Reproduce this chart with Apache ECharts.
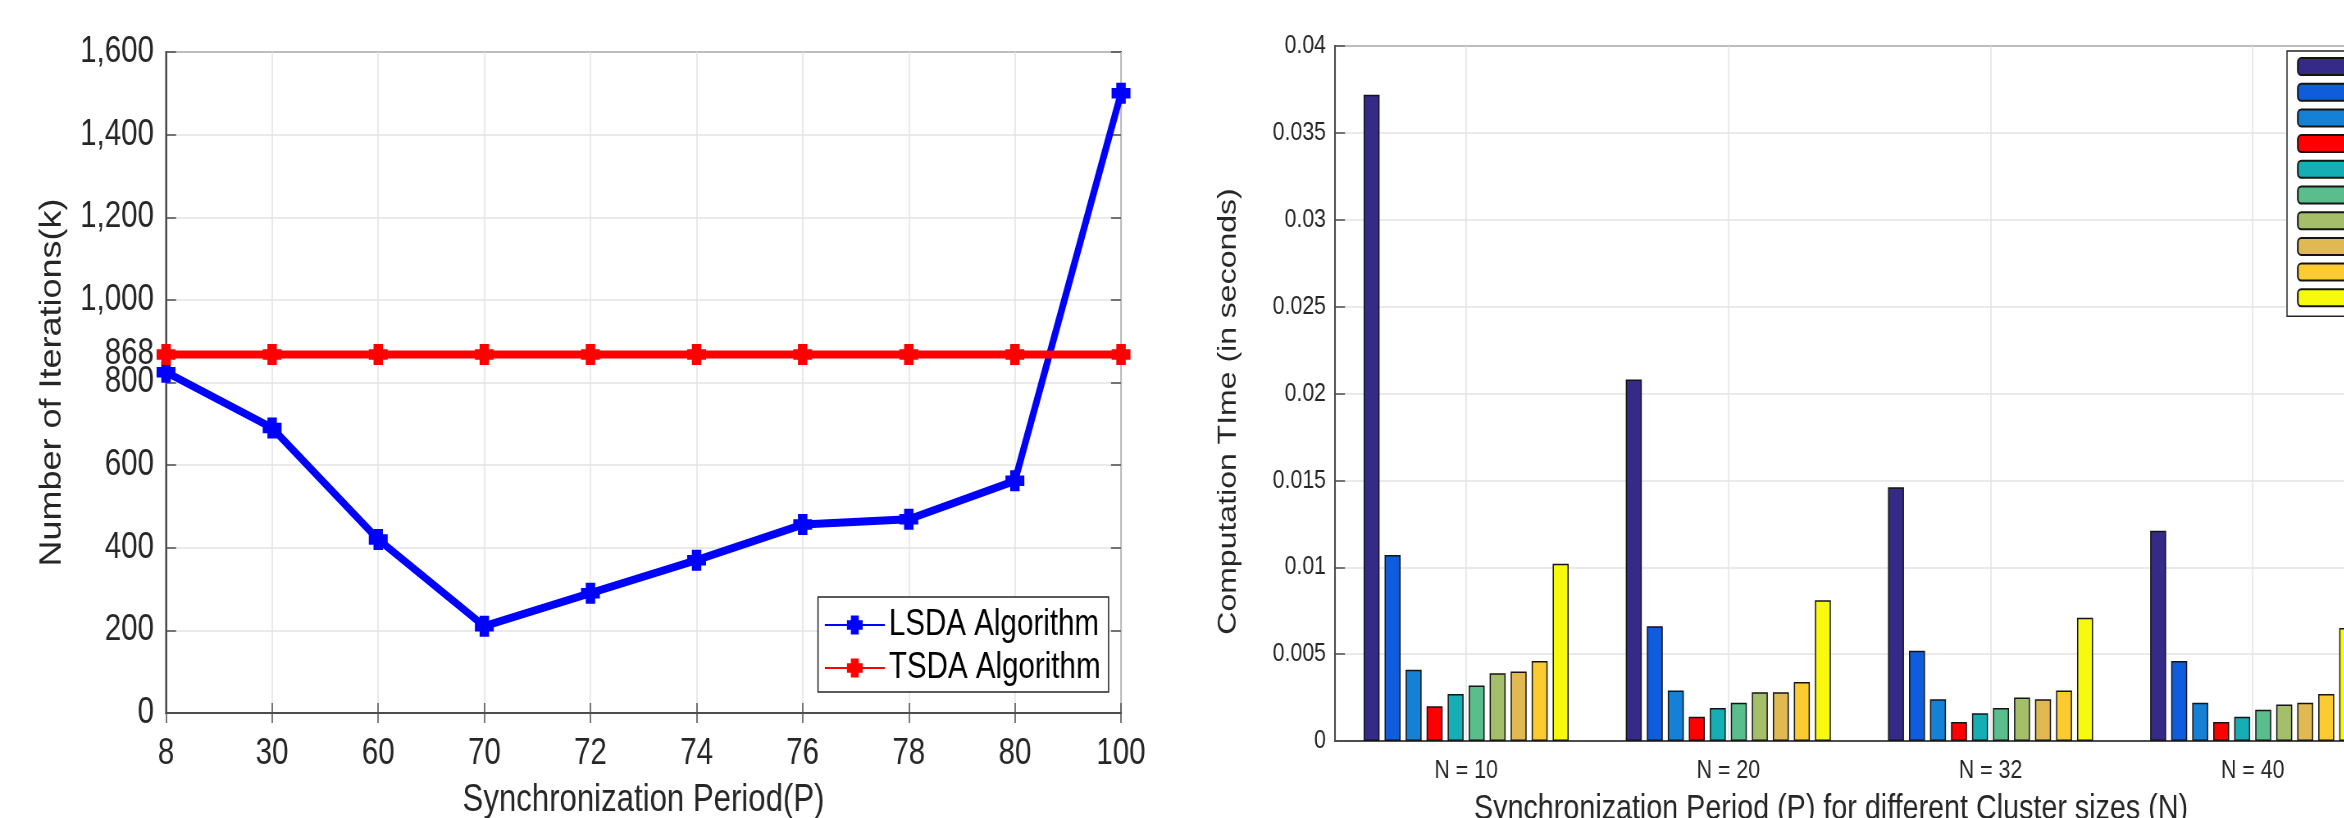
<!DOCTYPE html>
<html>
<head>
<meta charset="utf-8">
<script src="https://cdn.jsdelivr.net/npm/echarts@6/dist/echarts.min.js"></script>
<style>
html,body{margin:0;padding:0;background:#fff;overflow:hidden;width:2344px;height:818px;}
#chart{width:2859px;height:818px;transform:scaleX(0.82);transform-origin:0 0;}
</style>
</head>
<body>
<div id="chart"></div>
<script>
// ---- Left chart data ----
const periods = ['8', '30', '60', '70', '72', '74', '76', '78', '80', '100'];
const lsdaIterations = [825, 690, 420, 210, 290, 370, 456, 469, 562, 1500];
const tsdaIterations = [868, 868, 868, 868, 868, 868, 868, 868, 868, 868];
const tsdaTickValue = 868;

// ---- Right chart data ----
const clusterSizes = ['N = 10', 'N = 20', 'N = 32', 'N = 40'];
const timeP8   = [0.0372, 0.0208, 0.0146, 0.0121];
const timeP30  = [0.0107, 0.0066, 0.0052, 0.0046];
const timeP60  = [0.0041, 0.0029, 0.0024, 0.0022];
const timeP70  = [0.0020, 0.0014, 0.0011, 0.0011];
const timeP72  = [0.0027, 0.0019, 0.0016, 0.0014];
const timeP74  = [0.0032, 0.0022, 0.0019, 0.0018];
const timeP76  = [0.0039, 0.0028, 0.0025, 0.0021];
const timeP78  = [0.0040, 0.0028, 0.0024, 0.0022];
const timeP80  = [0.0046, 0.0034, 0.0029, 0.0027];
const timeP100 = [0.0102, 0.0081, 0.0071, 0.0065];
const barColors = ['#352a87', '#0f5cdd', '#1481d6', '#ff0000', '#15aeb4',
                   '#59bd8c', '#a5be6a', '#e0b952', '#fccb2f', '#f8fa0d'];

const timeSeries = [timeP8, timeP30, timeP60, timeP70, timeP72, timeP74, timeP76, timeP78, timeP80, timeP100];
const periodNames = periods.map(p => 'P = ' + p);

// The original figure is horizontally compressed; the page draws at full width and is squeezed by CSS.
const S = 0.82;
const px = v => v / S; // convert a horizontal screen distance to chart-space

const FONT = "'Liberation Sans', Arial, sans-serif";
const TXT = '#262626';
const AX = '#4d4d4d';
const GRIDC = '#e3e3e3';
const plusSymbol = 'path://M25,0H75V25H100V75H75V100H25V75H0V25H25Z';

const chart = echarts.init(document.getElementById('chart'), null, {renderer: 'canvas', width: 2859, height: 818});

const barSeries = timeSeries.map((vals, i) => ({
  name: periodNames[i],
  type: 'bar',
  xAxisIndex: 2,
  yAxisIndex: 3,
  data: vals,
  barWidth: px(16),
  barGap: '31.3%',
  itemStyle: {color: barColors[i], borderColor: '#151515', borderWidth: 1.5},
  emphasis: {disabled: true}
}));

const option = {
  animation: false,
  backgroundColor: '#fff',
  grid: [
    {left: px(166), top: 52, width: px(955), height: 661, show: true, borderColor: AX, borderWidth: 2,
     backgroundColor: 'transparent', outerBoundsMode: 'none', containLabel: false},
    {left: px(1335), top: 46, width: px(262.2) * 5, height: 695, show: true, borderColor: AX, borderWidth: 2,
     backgroundColor: 'transparent', outerBoundsMode: 'none', containLabel: false}
  ],
  legend: [
    {
      data: ['LSDA Algorithm', 'TSDA Algorithm'],
      orient: 'vertical',
      left: px(818), top: 597,
      padding: [10, px(8), 6, px(6)],
      itemGap: 7,
      itemWidth: px(60), itemHeight: 24,
      backgroundColor: '#fff',
      borderColor: '#262626', borderWidth: 1.5,
      textStyle: {fontFamily: FONT, fontSize: 36, color: '#000'}
    },
    {
      data: periodNames,
      orient: 'vertical',
      left: px(2287), top: 51,
      padding: [6, px(10), 9, px(10)],
      itemGap: 6.7,
      itemWidth: px(70), itemHeight: 17,
      backgroundColor: '#fff',
      borderColor: '#262626', borderWidth: 1.5,
      textStyle: {fontFamily: FONT, fontSize: 17, lineHeight: 17, color: '#000'}
    }
  ],
  xAxis: [
    { // left chart bottom
      gridIndex: 0, type: 'category', data: periods, boundaryGap: false,
      axisLine: {lineStyle: {color: AX, width: 2}},
      axisTick: {inside: true, length: 10, lineStyle: {color: AX, width: 1.5}},
      axisLabel: {fontFamily: FONT, fontSize: 36, color: TXT, margin: 23},
      splitLine: {show: true, lineStyle: {color: GRIDC, width: 1.5}},
      name: 'Synchronization Period(P)', nameLocation: 'middle', nameGap: 69, nameMoveOverlap: false,
      nameTextStyle: {fontFamily: FONT, fontSize: 38, color: TXT}
    },
    { // left chart top
      gridIndex: 0, type: 'category', data: periods, boundaryGap: false, position: 'top',
      axisLine: {show: false},
      axisTick: {inside: true, length: 10, lineStyle: {color: AX, width: 1.5}},
      axisLabel: {show: false}, splitLine: {show: false}
    },
    { // right chart bottom
      gridIndex: 1, type: 'category', data: clusterSizes.concat(['']),
      axisLine: {lineStyle: {color: AX, width: 2}},
      axisTick: {inside: true, length: 6, alignWithLabel: true, lineStyle: {color: AX, width: 1.5}},
      axisLabel: {fontFamily: FONT, fontSize: 26, color: TXT, margin: 17},
      splitLine: {show: true, alignWithLabel: true, lineStyle: {color: GRIDC, width: 1.5}},
      name: 'Synchronization Period (P) for different Cluster sizes (N)', nameLocation: 'middle', nameGap: 51,
      nameMoveOverlap: false,
      nameTextStyle: {fontFamily: FONT, fontSize: 35, color: TXT, padding: [0, 389, 0, 0]}
    },
    { // right chart top
      gridIndex: 1, type: 'category', data: clusterSizes.concat(['']), position: 'top',
      axisLine: {show: false},
      axisTick: {inside: true, length: 11, alignWithLabel: true, lineStyle: {color: AX, width: 1.5}},
      axisLabel: {show: false}, splitLine: {show: false}
    }
  ],
  yAxis: [
    { // left chart main
      gridIndex: 0, type: 'value', min: 0, max: 1600, interval: 200,
      axisLine: {show: true, lineStyle: {color: AX, width: 2}},
      axisTick: {show: true, inside: true, length: px(10), lineStyle: {color: AX, width: 1.5}},
      axisLabel: {fontFamily: FONT, fontSize: 36, color: TXT, margin: px(12),
                  formatter: v => v.toLocaleString('en-US')},
      splitLine: {show: true, lineStyle: {color: GRIDC, width: 1.5}},
      name: 'Number of Iterations(k)', nameLocation: 'middle', nameGap: 120, nameMoveOverlap: false,
      nameTextStyle: {fontFamily: FONT, fontSize: 36, color: TXT}
    },
    { // left chart: extra 868 tick
      gridIndex: 0, type: 'value', min: 0, max: 1600, interval: tsdaTickValue, position: 'left',
      axisLine: {show: false},
      axisTick: {show: true, inside: true, length: px(10), lineStyle: {color: AX, width: 1.5}},
      axisLabel: {fontFamily: FONT, fontSize: 36, color: TXT, margin: px(12),
                  formatter: v => (v === tsdaTickValue ? String(v) : '')},
      splitLine: {show: false}
    },
    { // left chart right side ticks
      gridIndex: 0, type: 'value', min: 0, max: 1600, interval: 200, position: 'right',
      axisLine: {show: false},
      axisTick: {show: true, inside: true, length: px(10), lineStyle: {color: AX, width: 1.5}},
      axisLabel: {show: false}, splitLine: {show: false}
    },
    { // right chart
      gridIndex: 1, type: 'value', min: 0, max: 0.04, interval: 0.005,
      axisLine: {show: true, lineStyle: {color: AX, width: 2}},
      axisTick: {show: true, inside: true, length: px(10), lineStyle: {color: AX, width: 1.5}},
      axisLabel: {fontFamily: FONT, fontSize: 26, color: TXT, margin: px(9),
                  formatter: v => (v === 0 ? '0' : String(+v.toFixed(3)))},
      splitLine: {show: true, lineStyle: {color: GRIDC, width: 1.5}},
      name: 'Computation TIme (in seconds)', nameLocation: 'middle', nameGap: 114, nameMoveOverlap: false,
      nameTextStyle: {fontFamily: FONT, fontSize: 32, color: TXT, padding: [0, 36, 0, 0]}
    }
  ],
  series: [
    {
      name: 'LSDA Algorithm', type: 'line', xAxisIndex: 0, yAxisIndex: 0,
      data: lsdaIterations, color: '#0000ff',
      lineStyle: {width: 8, color: '#0000ff'},
      symbol: plusSymbol, symbolSize: [23, 21], showAllSymbol: true,
      itemStyle: {color: '#0000ff'}, emphasis: {disabled: true}
    },
    {
      name: 'TSDA Algorithm', type: 'line', xAxisIndex: 0, yAxisIndex: 0,
      data: tsdaIterations, color: '#ff0000',
      lineStyle: {width: 8, color: '#ff0000'},
      symbol: plusSymbol, symbolSize: [23, 21], showAllSymbol: true,
      itemStyle: {color: '#ff0000'}, emphasis: {disabled: true}
    }
  ].concat(barSeries)
};

chart.setOption(option);
</script>
</body>
</html>
